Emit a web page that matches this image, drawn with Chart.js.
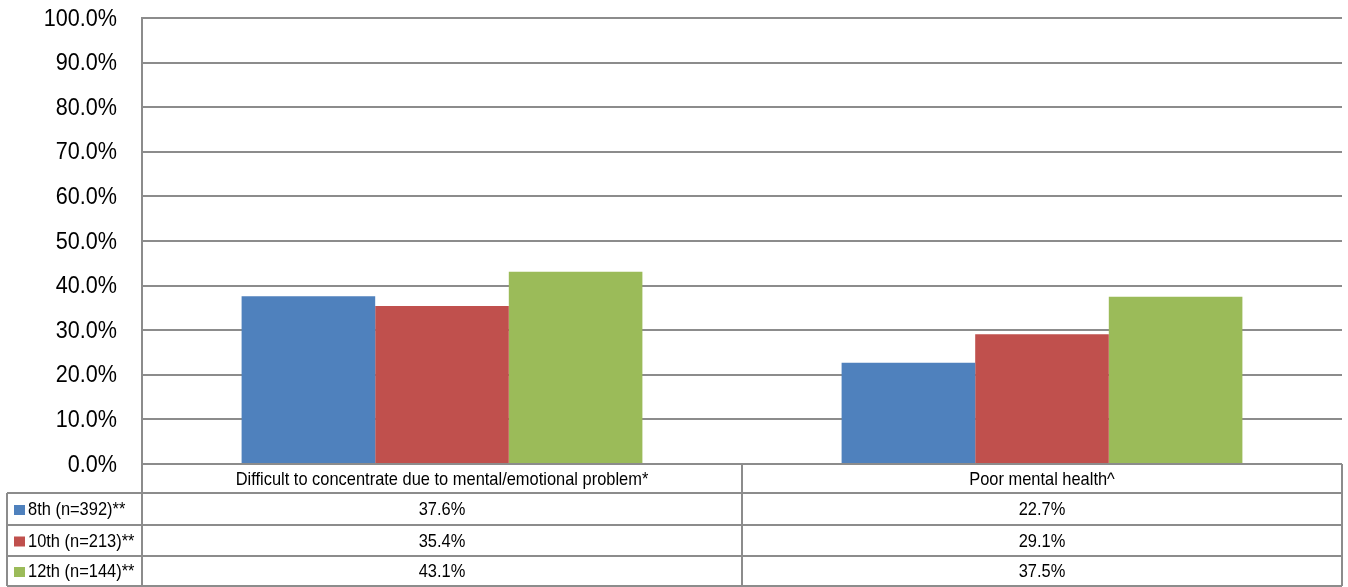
<!DOCTYPE html>
<html>
<head>
<meta charset="utf-8">
<script src="https://cdn.jsdelivr.net/npm/chart.js@4/dist/chart.umd.min.js"></script>
<style>
  html, body { margin: 0; padding: 0; background: #fff; }
  #wrap { width: 1348px; height: 587px; }
</style>
</head>
<body>
<div id="wrap"><canvas id="chart" width="1348" height="587"></canvas></div>
<script>
// chart data
const categories = ['Difficult to concentrate due to mental/emotional problem*', 'Poor mental health^'];
const seriesNames = ['8th (n=392)**', '10th (n=213)**', '12th (n=144)**'];
const grade8 = [37.6, 22.7];
const grade10 = [35.4, 29.1];
const grade12 = [43.1, 37.5];
const seriesColors = ['#4F81BD', '#C0504D', '#9BBB59'];
const yTicks = [0, 10, 20, 30, 40, 50, 60, 70, 80, 90, 100];

const gridColor = '#8c8c8c';
const fontFamily = '"Liberation Sans", Arial, sans-serif';

// the original uses a narrow font, so squeeze text horizontally
function narrowText(ctx, text, x, y, align, squeeze) {
    ctx.save();
    ctx.translate(x, y);
    ctx.scale(squeeze, 1);
    ctx.textAlign = align;
    ctx.fillText(text, 0, 0);
    ctx.restore();
}

// y tick labels + data table under the plot (Excel style)
const dataTablePlugin = {
    id: 'dataTable',
    afterDraw(chart) {
        const ctx = chart.ctx;
        const area = chart.chartArea;
        const xScale = chart.scales.x;
        const yScale = chart.scales.y;
        const left = area.left, right = area.right;
        const tableLeft = 7;
        const rows = [area.bottom, area.bottom + 29, area.bottom + 61, area.bottom + 92, chart.height - 1];
        const colEdges = [left];
        for (let i = 1; i < categories.length; i++) {
            colEdges.push((xScale.getPixelForValue(i - 1) + xScale.getPixelForValue(i)) / 2);
        }
        colEdges.push(right);

        ctx.save();
        // y tick labels
        ctx.fillStyle = '#000';
        ctx.textBaseline = 'middle';
        ctx.font = '24px ' + fontFamily;
        yTicks.forEach(v => {
            narrowText(ctx, v.toFixed(1) + '%', 117, yScale.getPixelForValue(v) + 1, 'right', 0.9);
        });

        ctx.strokeStyle = gridColor;
        ctx.lineWidth = 2;
        ctx.beginPath();
        // horizontal lines
        ctx.moveTo(left, rows[0]); ctx.lineTo(right, rows[0]);
        for (let r = 1; r < rows.length; r++) {
            ctx.moveTo(tableLeft, rows[r]); ctx.lineTo(right, rows[r]);
        }
        // vertical lines
        ctx.moveTo(tableLeft, rows[1]); ctx.lineTo(tableLeft, rows[4]);
        colEdges.forEach(x => { ctx.moveTo(x, rows[0]); ctx.lineTo(x, rows[4]); });
        ctx.stroke();

        ctx.font = '19px ' + fontFamily;
        categories.forEach((c, i) => {
            narrowText(ctx, c, xScale.getPixelForValue(i), (rows[0] + rows[1]) / 2 + 1, 'center', 0.865);
        });
        chart.data.datasets.forEach((ds, d) => {
            const yMid = (rows[d + 1] + rows[d + 2]) / 2 + 1;
            ctx.fillStyle = '#000';
            ds.data.forEach((v, i) => {
                narrowText(ctx, v.toFixed(1) + '%', xScale.getPixelForValue(i), yMid, 'center', 0.865);
            });
            // legend key
            ctx.fillStyle = ds.backgroundColor;
            ctx.fillRect(14, yMid - 5, 11, 10);
            ctx.fillStyle = '#000';
            narrowText(ctx, ds.label, 28, yMid, 'left', 0.865);
        });
        ctx.restore();
    }
};

new Chart(document.getElementById('chart'), {
    type: 'bar',
    data: {
        labels: categories,
        datasets: [
            { label: seriesNames[0], data: grade8, backgroundColor: seriesColors[0] },
            { label: seriesNames[1], data: grade10, backgroundColor: seriesColors[1] },
            { label: seriesNames[2], data: grade12, backgroundColor: seriesColors[2] }
        ]
    },
    options: {
        responsive: false,
        animation: false,
        devicePixelRatio: 1,
        layout: { padding: { left: 0, right: 6, top: 18, bottom: 123 } },
        datasets: { bar: { categoryPercentage: 0.668, barPercentage: 1.0, borderWidth: 0 } },
        plugins: {
            legend: { display: false },
            tooltip: { enabled: false }
        },
        scales: {
            x: {
                display: false,
                grid: { display: false }
            },
            y: {
                min: 0,
                max: 100,
                afterFit(scale) { scale.width = 142; },
                afterBuildTicks(scale) { scale.ticks = yTicks.map(v => ({ value: v })); },
                ticks: { display: false },
                grid: { color: gridColor, lineWidth: 2, drawTicks: false },
                border: { display: true, color: gridColor, width: 2 }
            }
        }
    },
    plugins: [dataTablePlugin]
});
</script>
</body>
</html>
